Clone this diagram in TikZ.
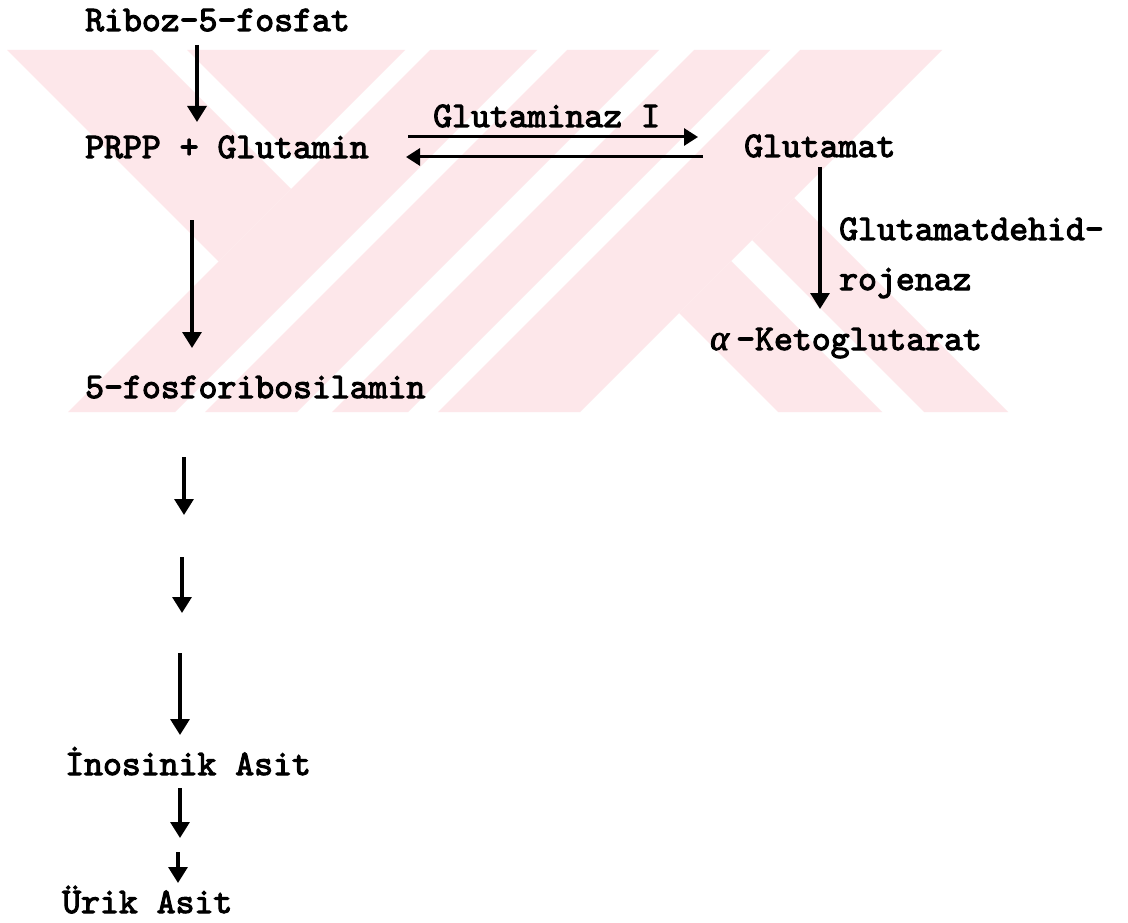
\documentclass[tikz,border=0pt]{standalone}
\usepackage{fontspec}
\newfontfamily\typew{lmmono10-regular.otf}[FakeBold=3]
\newfontfamily\greekf{Liberation Serif}[FakeBold=2.5]
\usetikzlibrary{arrows.meta}
\definecolor{wmpink}{RGB}{253,231,234}
\tikzset{
  lbl/.style={font=\typew\fontsize{36}{40}\selectfont, inner sep=0pt, anchor=base west},
  arr/.style={line width=3.2pt, -{Triangle[length=16pt,width=19pt]}},
  harr/.style={line width=3pt, -{Triangle[length=14pt,width=17pt]}},
  wm/.style={fill=wmpink, draw=none}
}
\begin{document}
\begin{tikzpicture}[x=1pt,y=-1pt]
\useasboundingbox (0,0) rectangle (1128,923);
\fill[white] (0,0) rectangle (1128,923);

% pale background emblem made of diagonal bands
\begin{scope}
  \clip (0,50) rectangle (1128,412);
  % left falling bands
  \fill[wm] (7,50) -- (152,50) -- (291,189) -- (218.5,261.5) -- cycle;
  \fill[wm] (187,50) -- (405,50) -- (296,159) -- cycle;
  % rising bands
  \fill[wm] (430,50) -- (537,50) -- (175,412) -- (68,412) -- cycle;
  \fill[wm] (567,50) -- (659,50) -- (297,412) -- (205,412) -- cycle;
  \fill[wm] (694,50) -- (770,50) -- (408,412) -- (332,412) -- cycle;
  \fill[wm] (800,50) -- (942,50) -- (580,412) -- (438,412) -- cycle;
  % right falling bands
  \fill[wm] (679,313) -- (731,261) -- (882,412) -- (778,412) -- cycle;
  \fill[wm] (752,240) -- (794,198) -- (1008,412) -- (924,412) -- cycle;
\end{scope}

% compounds and enzymes
\node[lbl] (riboz)    at (85,31)   {Riboz-5-fosfat};
\node[lbl] (prpp)     at (85,158)  {PRPP + Glutamin};
\node[lbl] (gzI)      at (433,127) {Glutaminaz I};
\node[lbl] (glutamat) at (744,157) {Glutamat};
\node[lbl] (gdhA)     at (839,240) {Glutamatdehid-};
\node[lbl] (gdhB)     at (839,290) {rojenaz};
\node[lbl] (akg)      at (710,350) {\makebox[26pt][l]{\greekf\itshape α}-Ketoglutarat};
\node[lbl] (pra)      at (85,398)  {5-fosforibosilamin};
\node[lbl] (imp)      at (65,775)  {İnosinik Asit};
\node[lbl] (urik)     at (62,913)  {Ürik Asit};

% arrow end points
\coordinate (r1) at (197,45);   \coordinate (r2) at (197,122);
\coordinate (f1) at (408,137);  \coordinate (f2) at (698,137);
\coordinate (b1) at (703,157);  \coordinate (b2) at (406,157);
\coordinate (g1) at (820,167);  \coordinate (g2) at (820,309);
\coordinate (p1) at (192,220);  \coordinate (p2) at (192,348);
\coordinate (s1) at (184,457);  \coordinate (s2) at (184,515);
\coordinate (t1) at (182,557);  \coordinate (t2) at (182,613);
\coordinate (u1) at (180,653);  \coordinate (u2) at (180,735);
\coordinate (v1) at (180,788);  \coordinate (v2) at (180,838);
\coordinate (w1) at (178,852);  \coordinate (w2) at (178,883);

\draw[arr]  (r1) -- (r2);
\draw[harr] (f1) -- (f2);
\draw[harr] (b1) -- (b2);
\draw[arr]  (g1) -- (g2);
\draw[arr]  (p1) -- (p2);
\draw[arr]  (s1) -- (s2);
\draw[arr]  (t1) -- (t2);
\draw[arr]  (u1) -- (u2);
\draw[arr]  (v1) -- (v2);
\draw[arr]  (w1) -- (w2);
\end{tikzpicture}
\end{document}
